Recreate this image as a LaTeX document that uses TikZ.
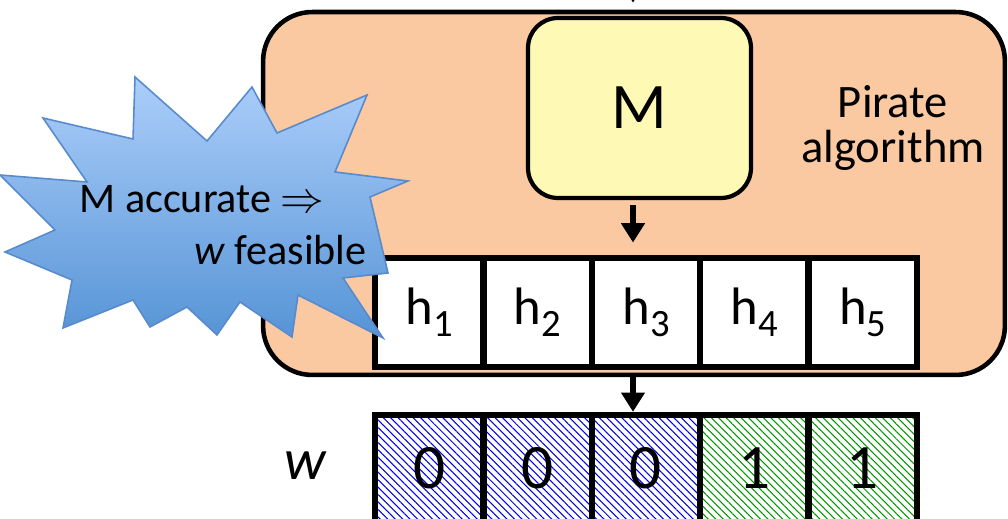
\documentclass[tikz,border=0pt]{standalone}
\usepackage{fontspec}
\setmainfont{Carlito}
\usepackage{tikz}
\usetikzlibrary{arrows.meta,patterns.meta,positioning,shapes}
\definecolor{peach}{RGB}{250,201,161}
\definecolor{lemon}{RGB}{255,249,182}
\definecolor{skytop}{RGB}{172,206,250}
\definecolor{skybot}{RGB}{86,148,214}
\definecolor{skyline}{RGB}{88,138,204}
\definecolor{zeroblue}{RGB}{0,0,235}
\definecolor{onegreen}{RGB}{0,150,0}
\tikzset{
  cellbox/.style={rectangle,draw,line width=3.6pt,fill=white,
    minimum width=2.168cm,minimum height=2.18cm,inner sep=0pt,
    font=\fontsize{30}{32}\selectfont},
  bitbox/.style={rectangle,draw,line width=3.6pt,
    minimum width=2.168cm,minimum height=2.14cm,inner sep=0pt,
    pattern={Lines[angle=-45,distance=3pt,line width=0.6pt]},
    pattern color=#1,font=\fontsize{36}{38}\selectfont},
  flow/.style={line width=3.8pt,-{Triangle[width=13pt,length=11pt]}}
}
\newcommand{\hsub}[1]{h\raisebox{-7pt}{\fontsize{22}{22}\selectfont #1}}

\begin{document}
\begin{tikzpicture}[x=0.02cm,y=-0.02cm]
\useasboundingbox (0,0) rectangle (1008,519);

% the algorithm box and the model inside it
\node[draw,line width=2.6pt,fill=peach,rounded corners=28pt,
  minimum width=14.84cm,minimum height=7.26cm] (alg) at (634,193.5) {};
\node[draw,line width=2.4pt,fill=lemon,rounded corners=17pt,
  minimum width=4.46cm,minimum height=3.6cm,
  font=\fontsize{37}{40}\selectfont] (model) at (639.5,108) {M};
\node[align=center,font=\fontsize{26.5}{26}\selectfont] (name) at (893,128)
  {Pirate\\algorithm};

% hypotheses h_1..h_5 and the output vector w
\foreach \i in {1,...,5}
  \node[cellbox] (h\i) at ({375+108.4*(\i-0.5)},312.5) {\hsub{\i}};
\foreach \i/\b/\c in {1/0/zeroblue,2/0/zeroblue,3/0/zeroblue,4/1/onegreen,5/1/onegreen}
  \node[bitbox=\c] (w\i) at ({375+108.4*(\i-0.5)},468.5) {\b};
\node[font=\fontsize{33}{36}\selectfont\itshape] (wlab) at (305,466) {w};

% arrows
\coordinate (feed) at (633,-40);
\draw[flow,shorten >=4pt] (feed) -- (feed |- alg.north);
\draw[flow,shorten <=3pt,shorten >=7pt] (model.south -| feed) -- (h3.north -| feed);
\draw[flow] (alg.south -| feed) -- (w3.north -| feed);

% the starburst remark
\shadedraw[top color=skytop,bottom color=skybot,draw=skyline,line width=0.9pt,
  line join=miter]
  (135,77) -- (207,141) -- (252,87) -- (277,133) -- (367,95) -- (335,172)
  -- (408,181) -- (370,197) -- (388,273) -- (343,278) -- (383,338)
  -- (298,295) -- (292,337) -- (240,302) -- (217,335) -- (187,307)
  -- (150,327) -- (133,300) -- (63,328) -- (72,280) -- (5,252)
  -- (55,230) -- (0,175) -- (87,182) -- (43,118) -- (133,139) -- cycle;
\node[anchor=base east,inner sep=0pt,font=\fontsize{24}{26}\selectfont]
  (acc) at (325,213) {M accurate $\Rightarrow$};
\node[anchor=base east,inner sep=0pt,font=\fontsize{24}{26}\selectfont]
  (feas) at (367,265) {\textit{w} feasible};
\end{tikzpicture}
\end{document}
